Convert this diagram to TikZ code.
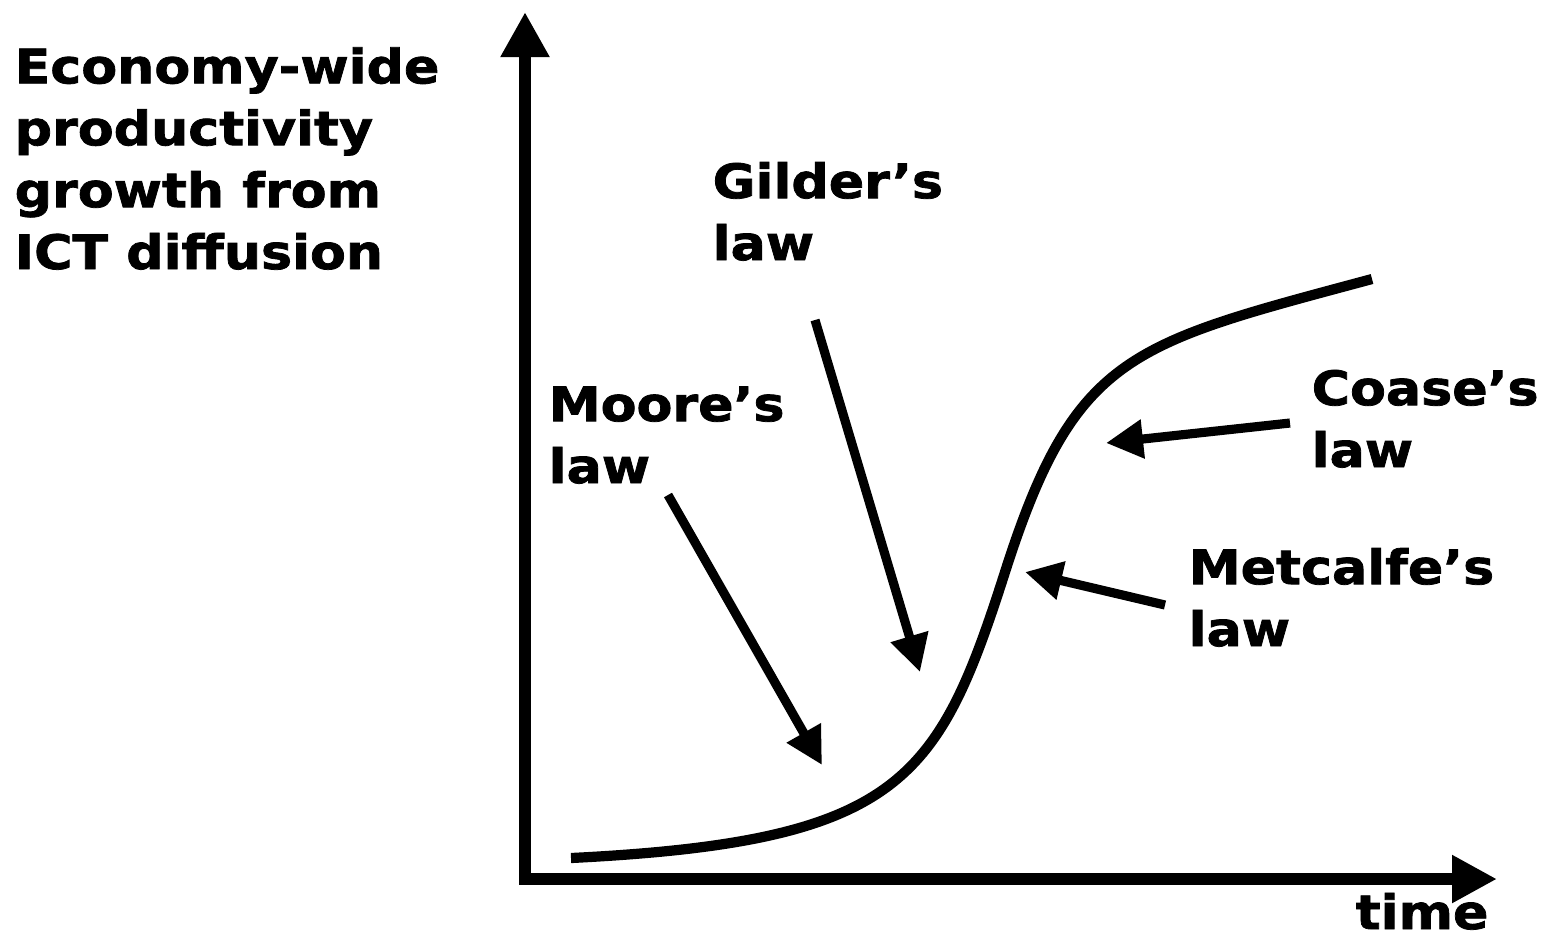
\documentclass[tikz,border=0pt]{standalone}
\usepackage{fontspec}
\setmainfont{DejaVu Sans}[FakeStretch=1.1, BoldFeatures={FakeBold=1.6}]
\usepackage{tikz}
\usetikzlibrary{arrows.meta,calc,positioning}

\tikzset{
  lawtext/.style={anchor=base west, inner sep=0pt, align=left,
    font=\bfseries\fontsize{13.5}{17.6}\selectfont},
  axisline/.style={line width=3.4pt, line join=miter},
  lawarrow/.style={line width=2.6pt, -{Triangle[length=0.37cm,width=0.37cm]}},
  growth/.style={line width=2.9pt, line cap=butt}
}

\begin{document}
\begin{tikzpicture}[x=0.01cm, y=-0.01cm]
        \useasboundingbox (0,0) rectangle (1543,938);
        \coordinate (ytop) at (525,12);
        \coordinate (origin) at (525,879);
        \coordinate (xend) at (1497,879);
        %Axis
        \draw[axisline, {Triangle[length=0.45cm,width=0.46cm]}-{Triangle[length=0.45cm,width=0.45cm]}]
          (ytop) -- (origin) -- (xend);
        %Labels (anchored on the baseline of the last line)
        \node[lawtext] (ylabel) at (14,269) {Economy-wide\\productivity\\growth from\\ICT diffusion};
        \node[lawtext] (time) at (1355,929) {time};
        \node[lawtext] (gilder) at (712,260) {Gilder’s\\law};
        \node[lawtext] (moore) at (548,483) {Moore’s\\law};
        \node[lawtext] (coase) at (1311,467) {Coase’s\\law};
        \node[lawtext] (metcalfe) at (1188,646) {Metcalfe’s\\law};
        %Growth curve
        \coordinate (c0) at (571,858);
        \coordinate (c1) at (1005,572);
        \coordinate (c2) at (1372,279);
        \draw[growth] (c0) .. controls (901,841.5) and (938,781) .. (c1)
                           .. controls (1075,353) and (1130.5,344) .. (c2);
        %Arrows
        \coordinate (moore-tail) at (668,495);
        \coordinate (moore-tip) at (822,765);
        \coordinate (gilder-tail) at (815,320);
        \coordinate (gilder-tip) at (920,672);
        \coordinate (coase-tail) at (1290,423);
        \coordinate (coase-tip) at (1106,443);
        \coordinate (metcalfe-tail) at (1165,605);
        \coordinate (metcalfe-tip) at (1025,572);
        \draw[lawarrow] (moore-tail) -- (moore-tip);
        \draw[lawarrow] (gilder-tail) -- (gilder-tip);
        \draw[lawarrow] (coase-tail) -- (coase-tip);
        \draw[lawarrow] (metcalfe-tail) -- (metcalfe-tip);
      \end{tikzpicture}
\end{document}
